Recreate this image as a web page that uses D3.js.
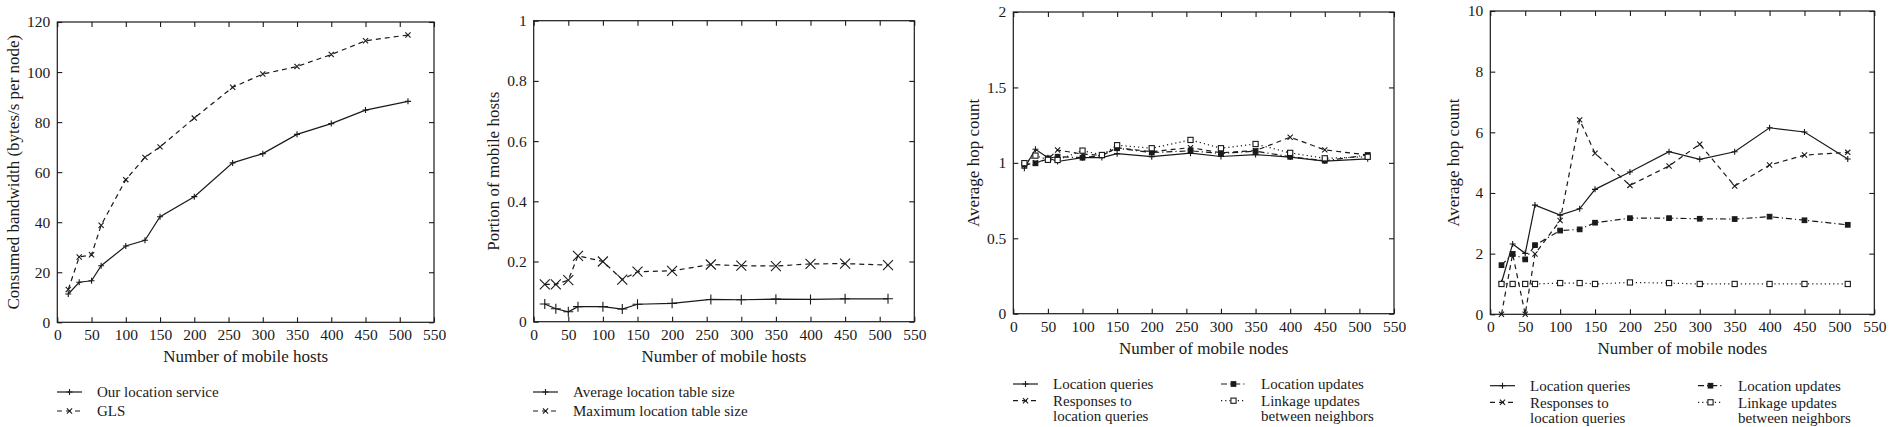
<!DOCTYPE html>
<html>
<head>
<meta charset="utf-8">
<script src="https://cdn.jsdelivr.net/npm/d3@7"></script>
<style>
  body { margin: 0; background: #fff; }
  text { font-family: "Liberation Serif", "Times New Roman", serif; fill: #1a1a1a; }
</style>
</head>
<body>
<div id="vis"></div>
<script>
// number of mobile hosts / nodes on the x axis
var hosts = [16, 32, 50, 64, 100, 128, 150, 200, 256, 300, 350, 400, 450, 512];
var xTicks = [0, 50, 100, 150, 200, 250, 300, 350, 400, 450, 500, 550];

// panel 1: consumed bandwidth
var bwOurService = [11.3, 16.0, 16.6, 22.6, 30.5, 32.8, 42.2, 50.2, 63.7, 67.4, 75.1, 79.4, 84.8, 88.3];
var bwGLS = [13.1, 26.1, 27.0, 38.8, 57.0, 65.9, 70.1, 81.6, 93.9, 99.2, 102.2, 107.0, 112.5, 114.8];
var bwTicks = [0, 20, 40, 60, 80, 100, 120];

// panel 2: location table size
var tableAvg = [0.059, 0.043, 0.033, 0.050, 0.050, 0.042, 0.058, 0.061, 0.074, 0.073, 0.075, 0.074, 0.076, 0.076];
var tableMax = [0.124, 0.124, 0.138, 0.219, 0.200, 0.140, 0.166, 0.169, 0.190, 0.186, 0.185, 0.192, 0.193, 0.188];
var portionTicks = [0, 0.2, 0.4, 0.6, 0.8, 1];

// panel 3: average hop count
var queries3 = [0.965, 1.090, 1.034, 1.009, 1.034, 1.035, 1.061, 1.041, 1.064, 1.042, 1.055, 1.038, 1.012, 1.027];
var responses3 = [0.985, 1.000, 1.025, 1.085, 1.058, 1.050, 1.100, 1.074, 1.101, 1.067, 1.081, 1.170, 1.086, 1.052];
var updates3 = [0.990, 0.997, 1.030, 1.041, 1.034, 1.050, 1.097, 1.068, 1.080, 1.062, 1.078, 1.040, 1.014, 1.052];
var linkage3 = [0.998, 1.048, 1.020, 1.019, 1.081, 1.052, 1.117, 1.097, 1.152, 1.097, 1.125, 1.066, 1.030, 1.040];
var hop3Ticks = [0, 0.5, 1, 1.5, 2];

// panel 4: average hop count
var queries4 = [1.04, 2.32, 2.01, 3.60, 3.27, 3.48, 4.12, 4.69, 5.36, 5.11, 5.36, 6.15, 6.01, 5.12];
var responses4 = [0, 1.99, 0, 1.99, 3.09, 6.41, 5.31, 4.25, 4.89, 5.61, 4.23, 4.92, 5.25, 5.34];
var updates4 = [1.62, 1.99, 1.81, 2.28, 2.76, 2.80, 3.02, 3.17, 3.17, 3.15, 3.14, 3.22, 3.10, 2.95];
var linkage4 = [1.00, 1.00, 1.00, 1.00, 1.03, 1.03, 1.00, 1.05, 1.03, 1.00, 1.00, 1.00, 1.00, 1.00];
var hop4Ticks = [0, 2, 4, 6, 8, 10];

var ink = '#1a1a1a';
var tickFont = '15.5px';
var titleFont = '17px';
var legendFont = '15px';

var svg = d3.select('#vis')
  .append('svg')
  .attr('width', 1891)
  .attr('height', 427);

svg.append('rect').attr('width', 1891).attr('height', 427).attr('fill', '#fff');

// line styles
var styles = {
  solid: null,
  dashed: '5,4',
  dashdot: '6,3,1.2,3',
  dotted: '1.2,3'
};

function markerPath(type, cx, cy, s) {
  if (type == 'plus') {
    return 'M' + (cx - s) + ',' + cy + 'H' + (cx + s) + 'M' + cx + ',' + (cy - s) + 'V' + (cy + s);
  } else if (type == 'cross') {
    return 'M' + (cx - s) + ',' + (cy - s) + 'L' + (cx + s) + ',' + (cy + s) +
      'M' + (cx - s) + ',' + (cy + s) + 'L' + (cx + s) + ',' + (cy - s);
  }
  return '';
}

function drawMarker(g, type, cx, cy, s) {
  if (type == 'square' || type == 'box') {
    g.append('rect')
      .attr('x', cx - s).attr('y', cy - s)
      .attr('width', 2 * s).attr('height', 2 * s)
      .attr('fill', type == 'square' ? ink : '#fff')
      .attr('stroke', ink)
      .attr('stroke-width', 1.1);
  } else {
    g.append('path')
      .attr('d', markerPath(type, cx, cy, s))
      .attr('stroke', ink)
      .attr('stroke-width', 1.1)
      .attr('fill', 'none');
  }
}

function drawPanel(p) {
  var x = d3.scaleLinear().domain([0, 550]).range([p.left, p.right]);
  var y = d3.scaleLinear().domain(p.yDomain).range([p.bottom, p.top]);
  var g = svg.append('g');

  // frame
  g.append('rect')
    .attr('x', p.left).attr('y', p.top)
    .attr('width', p.right - p.left).attr('height', p.bottom - p.top)
    .attr('fill', 'none').attr('stroke', ink).attr('stroke-width', 1.2);

  // axes, ticks pointing inward on all four sides
  var xb = g.append('g')
    .attr('transform', 'translate(0,' + p.bottom + ')')
    .call(d3.axisBottom(x).tickValues(xTicks).tickSizeInner(-5).tickSizeOuter(0).tickPadding(7));
  var xt = g.append('g')
    .attr('transform', 'translate(0,' + p.top + ')')
    .call(d3.axisTop(x).tickValues(xTicks).tickSizeInner(-5).tickSizeOuter(0).tickFormat(''));
  var yl = g.append('g')
    .attr('transform', 'translate(' + p.left + ',0)')
    .call(d3.axisLeft(y).tickValues(p.yTicks).tickSizeInner(-5).tickSizeOuter(0).tickPadding(7)
      .tickFormat(function(d) { return String(+d.toFixed(2)); }));
  var yr = g.append('g')
    .attr('transform', 'translate(' + p.right + ',0)')
    .call(d3.axisRight(y).tickValues(p.yTicks).tickSizeInner(-5).tickSizeOuter(0).tickFormat(''));

  [xb, xt, yl, yr].forEach(function(a) {
    a.select('.domain').remove();
    a.selectAll('line').attr('stroke', ink).attr('stroke-width', 1.1);
    a.selectAll('text')
      .style('font-family', '"Liberation Serif", serif')
      .style('font-size', tickFont)
      .attr('fill', ink);
  });

  // axis titles
  g.append('text')
    .attr('x', (p.left + p.right) / 2)
    .attr('y', p.bottom + 40)
    .attr('text-anchor', 'middle')
    .style('font-size', titleFont)
    .text(p.xTitle);

  g.append('text')
    .attr('transform', 'translate(' + p.yTitleX + ',' + ((p.top + p.bottom) / 2) + ') rotate(-90)')
    .attr('text-anchor', 'middle')
    .attr('dy', '0.35em')
    .style('font-size', titleFont)
    .text(p.yTitle);

  // series
  p.series.forEach(function(s) {
    var line = d3.line()
      .x(function(d, i) { return x(hosts[i]); })
      .y(function(d) { return y(d); });

    g.append('path')
      .datum(s.values)
      .attr('d', line)
      .attr('fill', 'none')
      .attr('stroke', ink)
      .attr('stroke-width', 1.2)
      .attr('stroke-dasharray', styles[s.style]);

    s.values.forEach(function(v, i) {
      drawMarker(g, s.marker, x(hosts[i]), y(v), s.size);
    });
  });

  // legend
  p.series.forEach(function(s, k) {
    var L = p.legend[k];
    g.append('line')
      .attr('x1', L.x).attr('x2', L.x + 25)
      .attr('y1', L.y).attr('y2', L.y)
      .attr('stroke', ink)
      .attr('stroke-width', 1.2)
      .attr('stroke-dasharray', styles[s.style]);
    drawMarker(g, s.marker, L.x + 12.5, L.y, s.legendSize || s.size);
    var t = g.append('text')
      .attr('x', L.x + 40)
      .attr('y', L.y)
      .style('font-size', legendFont);
    s.label.forEach(function(line, j) {
      t.append('tspan')
        .attr('x', L.x + 40)
        .attr('dy', j == 0 ? '0.35em' : '1.03em')
        .text(line);
    });
  });
}

drawPanel({
  left: 57.3, right: 434, top: 22, bottom: 322.3,
  yDomain: [0, 120], yTicks: bwTicks,
  xTitle: 'Number of mobile hosts',
  yTitle: 'Consumed bandwidth (bytes/s per node)', yTitleX: 13,
  series: [
    { values: bwOurService, style: 'solid', marker: 'plus', size: 3, label: ['Our location service'] },
    { values: bwGLS, style: 'dashed', marker: 'cross', size: 2.6, label: ['GLS'] }
  ],
  legend: [{ x: 57, y: 392 }, { x: 57, y: 411 }]
});

drawPanel({
  left: 533.7, right: 914.3, top: 20.7, bottom: 321.7,
  yDomain: [0, 1], yTicks: portionTicks,
  xTitle: 'Number of mobile hosts',
  yTitle: 'Portion of mobile hosts', yTitleX: 493,
  series: [
    { values: tableAvg, style: 'solid', marker: 'plus', size: 5, legendSize: 3, label: ['Average location table size'] },
    { values: tableMax, style: 'dashed', marker: 'cross', size: 5, legendSize: 2.6, label: ['Maximum location table size'] }
  ],
  legend: [{ x: 533, y: 392 }, { x: 533, y: 411 }]
});

drawPanel({
  left: 1013.3, right: 1394, top: 12, bottom: 313.7,
  yDomain: [0, 2], yTicks: hop3Ticks,
  xTitle: 'Number of mobile nodes',
  yTitle: 'Average hop count', yTitleX: 973,
  series: [
    { values: queries3, style: 'solid', marker: 'plus', size: 3, label: ['Location queries'] },
    { values: responses3, style: 'dashed', marker: 'cross', size: 2.6, label: ['Responses to', 'location queries'] },
    { values: updates3, style: 'dashdot', marker: 'square', size: 2.3, label: ['Location updates'] },
    { values: linkage3, style: 'dotted', marker: 'box', size: 2.6, label: ['Linkage updates', 'between neighbors'] }
  ],
  legend: [{ x: 1013, y: 384 }, { x: 1013, y: 400.7 }, { x: 1221, y: 384 }, { x: 1221, y: 400.7 }]
});

drawPanel({
  left: 1490.3, right: 1874.3, top: 11, bottom: 314.3,
  yDomain: [0, 10], yTicks: hop4Ticks,
  xTitle: 'Number of mobile nodes',
  yTitle: 'Average hop count', yTitleX: 1453,
  series: [
    { values: queries4, style: 'solid', marker: 'plus', size: 3, label: ['Location queries'] },
    { values: responses4, style: 'dashed', marker: 'cross', size: 2.6, label: ['Responses to', 'location queries'] },
    { values: updates4, style: 'dashdot', marker: 'square', size: 2.3, label: ['Location updates'] },
    { values: linkage4, style: 'dotted', marker: 'box', size: 2.6, label: ['Linkage updates', 'between neighbors'] }
  ],
  legend: [{ x: 1490, y: 385.7 }, { x: 1490, y: 402.3 }, { x: 1698, y: 385.7 }, { x: 1698, y: 402.3 }]
});
</script>
</body>
</html>
